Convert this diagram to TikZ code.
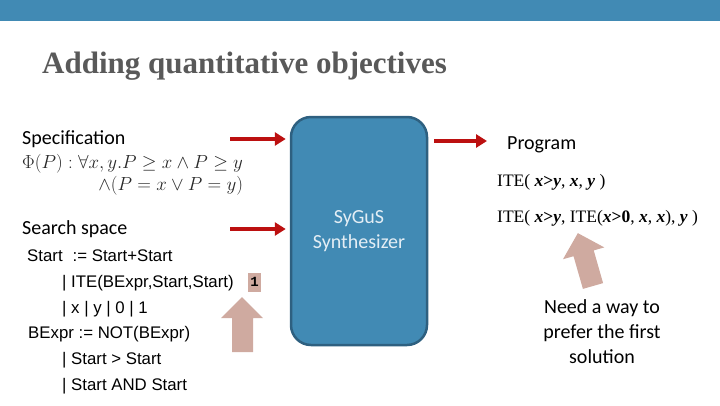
\documentclass[tikz,border=0pt]{standalone}
\usepackage{fontspec}
\usetikzlibrary{arrows.meta}
\newfontfamily\carl{Carlito}
\newfontfamily\lsans{Liberation Sans}
\newfontfamily\lserif{Liberation Serif}
\newfontfamily\lmono{Liberation Mono}
\definecolor{band}{RGB}{65,138,180}
\definecolor{boxfill}{RGB}{65,138,180}
\definecolor{boxline}{RGB}{46,96,128}
\definecolor{redarr}{RGB}{188,16,16}
\definecolor{pinkarr}{RGB}{207,170,160}
\definecolor{titlegray}{RGB}{89,89,89}
\definecolor{syntext}{RGB}{228,238,245}
\definecolor{mathgray}{RGB}{40,40,40}
\tikzset{
  lbl/.style={inner sep=0pt, font=\carl\fontsize{20}{25}\selectfont},
  gram/.style={inner sep=0pt, anchor=base west, font=\lsans\fontsize{16.8}{20}\selectfont},
  prog/.style={inner sep=0pt, anchor=base west, font=\lserif\fontsize{17.5}{20}\selectfont},
  formula/.style={inner sep=0pt, text=mathgray, scale=1.095, font=\fontsize{17.28}{20}\selectfont},
  redarrow/.style={draw=redarr, line width=4pt, -{Triangle[length=11pt,width=13pt]}},
  blockarrow/.style={fill=pinkarr, draw=none}
}
\newcommand{\bi}[1]{\textbf{\textit{#1}}}
\begin{document}
\begin{tikzpicture}[x=1pt,y=-1pt]
\useasboundingbox (0,0) rectangle (720,405);
% top band
\fill[band] (0,0) rectangle (720,21);
% title
\node[inner sep=0pt, anchor=base west, text=titlegray, font=\lserif\bfseries\fontsize{31}{36}\selectfont] (title) at (42,73) {Adding quantitative objectives};
% specification
\node[lbl, anchor=base west] (spec) at (22,144) {Specification};
\node[formula, anchor=base west] (phi1) at (22,168) {$\Phi(P): \forall x,y. P\geq x \wedge P\geq y$};
\node[formula, anchor=base east] (phi2) at (phi1.base east |- 0,190) {$\wedge(P = x \vee P = y)$};
% search space
\node[lbl, anchor=base west] (search) at (22,234) {Search space};
\node[gram] (g1) at (27,261) {Start\hspace{10pt}:= Start+Start};
\node[gram] (g2) at (62,287) {| ITE(BExpr,Start,Start)};
\node[gram] (g3) at (62,313) {| x | y | 0 | 1};
\node[gram] (g4) at (28,338) {BExpr := NOT(BExpr)};
\node[gram] (g5) at (62,364) {| Start > Start};
\node[gram] (g6) at (62,390) {| Start AND Start};
% badge 1
\node[fill=pinkarr, inner sep=0pt, minimum width=13pt, minimum height=19pt, text=black, font=\lmono\bfseries\fontsize{14}{14}\selectfont] (one) at (254.5,282) {1};
% left block arrow
\fill[blockarrow] (242,297) -- (263,318) -- (253,318) -- (253,352) -- (232,352) -- (232,318) -- (221,318) -- cycle;
% synthesizer
\node[draw=boxline, fill=boxfill, line width=2.5pt, rounded corners=20pt, minimum width=136pt, minimum height=228pt, inner sep=0pt] (syn) at (359,231) {};
\node[lbl, text=syntext, align=center] (syntxt) at (syn.center) {SyGuS\\Synthesizer};
% arrows
\coordinate (a1) at (230,139);
\coordinate (a2) at (230,229);
\coordinate (a3) at (487,141);
\draw[redarrow, shorten >=4pt] (a1) -- (a1 -| syn.west);
\draw[redarrow, shorten >=4pt] (a2) -- (a2 -| syn.west);
\draw[redarrow, shorten <=6pt] (a3 -| syn.east) -- (a3);
% program
\node[lbl, anchor=base west] (prog) at (507,149) {Program};
\node[prog] (p1) at (497,186) {ITE( \bi{x}\textbf{>}\bi{y}, \bi{x}, \bi{y} )};
\node[prog] (p2) at (497,222) {ITE( \bi{x}\textbf{>}\bi{y}, ITE(\bi{x}\textbf{>0}, \bi{x}, \bi{x}), \bi{y} )};
% right block arrow
\begin{scope}[shift={(593,286)}, rotate=16]
\fill[blockarrow] (0,-55) -- (21.5,-34) -- (10.5,-34) -- (10.5,0) -- (-10.5,0) -- (-10.5,-34) -- (-21.5,-34) -- cycle;
\end{scope}
\node[lbl, align=center] (need) at (602,332) {Need a way to\\prefer the first\\solution};
\end{tikzpicture}
\end{document}
